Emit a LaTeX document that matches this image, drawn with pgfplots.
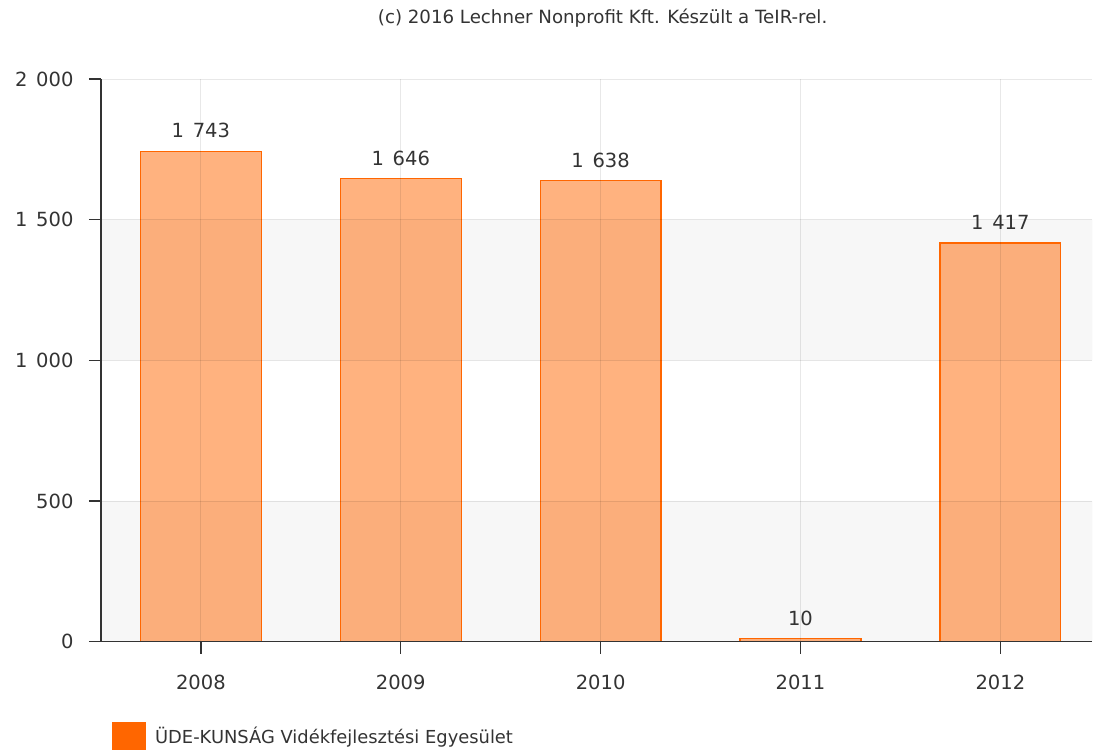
\documentclass[border=0pt]{standalone}
\usepackage{pgfplots}
\pgfplotsset{compat=1.18}
\usepackage{fontspec}
\setmainfont{DejaVu Sans}
\definecolor{barorange}{RGB}{255,102,0}
\definecolor{bandgray}{RGB}{247,247,247}
\definecolor{txt}{RGB}{51,51,51}
\begin{document}
\begin{tikzpicture}
\path (0,0) rectangle (1093pt,751pt);
\begin{axis}[
 axis on top,
 at={(101pt,109pt)}, anchor=south west,
 width=992pt, height=563pt, scale only axis,
 xmin=-0.5, xmax=4.46, ymin=0, ymax=2000,
 xtick={0,1,2,3,4}, xticklabels={2008,2009,2010,2011,2012},
 ytick={0,500,...,2000},
 axis lines=left, axis line style={-, draw=txt, line width=1.4pt},
 tick align=outside,
 tick style={draw=txt, line width=1.4pt},
 major tick length=12pt,
 xmajorgrids, ymajorgrids, grid style={draw=black, draw opacity=0.09, line width=0.8pt},
 tick label style={font=\fontsize{19.5}{22}\selectfont, text=txt},
 xticklabel style={yshift=-18pt},
 yticklabel style={xshift=-12pt},
 /pgf/number format/assume math mode=true,
 /pgf/number format/1000 sep={\hspace{0.45em}},
]
\addplot[draw=none, fill=bandgray] coordinates {(-0.5,0) (4.46,0) (4.46,500) (-0.5,500) (-0.5,0)};
\addplot[draw=none, fill=bandgray] coordinates {(-0.5,1000) (4.46,1000) (4.46,1500) (-0.5,1500) (-0.5,1000)};
\addplot[ybar, bar width=0.605, fill=barorange, fill opacity=0.5, draw=barorange, line width=1.3pt,
  nodes near coords,
  nodes near coords style={font=\fontsize{19.5}{22}\selectfont, text=txt, fill opacity=1, text opacity=1, yshift=9pt}]
  coordinates {(0,1743) (1,1646) (2,1638) (3,10) (4,1417)};
\end{axis}
\node[font=\fontsize{18.2}{20}\selectfont, text=txt] at (603pt,733pt) {(c) 2016 Lechner Nonprofit Kft. Készült a TeIR-rel.};
\fill[barorange] (112pt,1pt) rectangle (146pt,29pt);
\node[anchor=west, font=\fontsize{17.9}{20}\selectfont, text=txt, inner sep=0pt] at (155pt,13pt) {ÜDE-KUNSÁG Vidékfejlesztési Egyesület};
\end{tikzpicture}
\end{document}
